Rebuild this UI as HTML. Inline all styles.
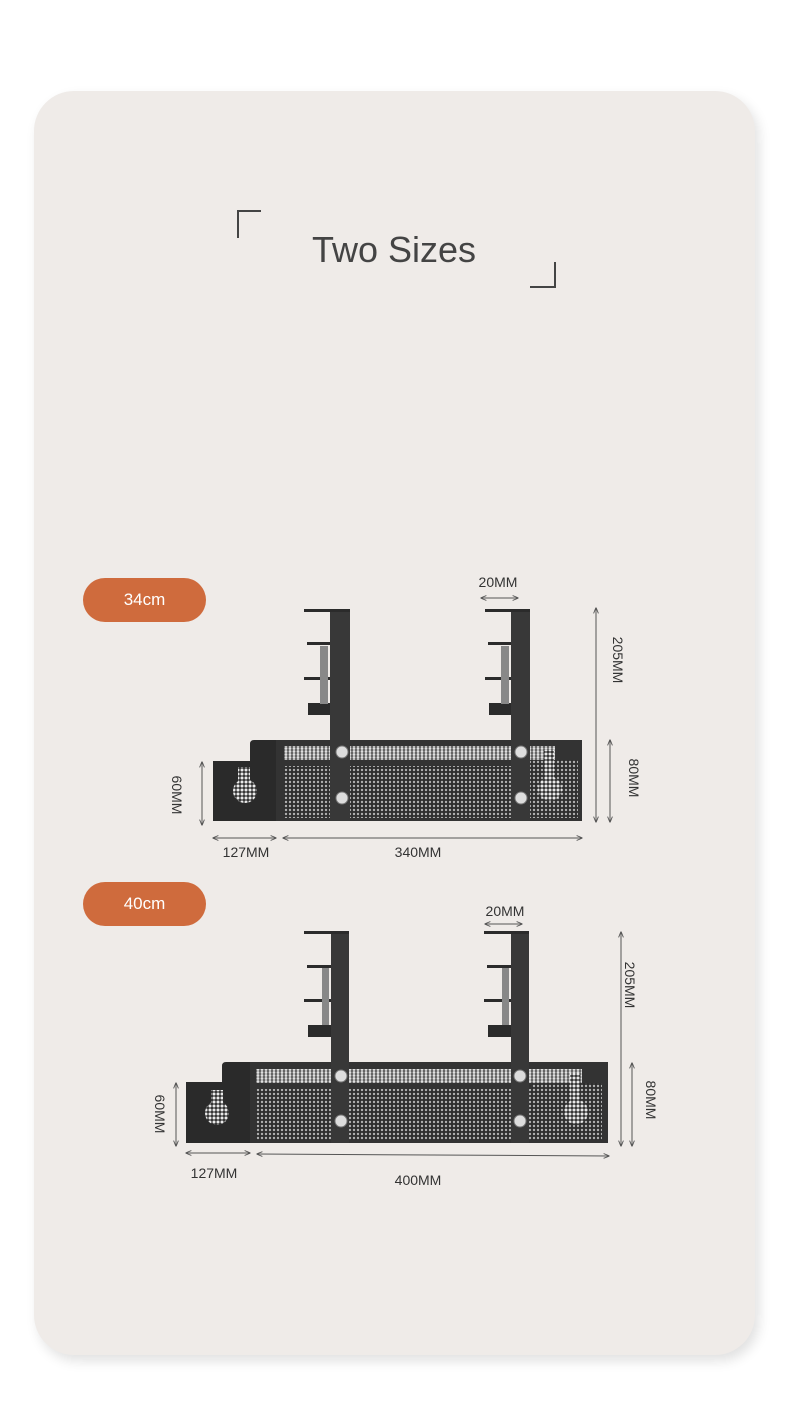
<!DOCTYPE html>
<html><head><meta charset="utf-8">
<style>
html,body{margin:0;padding:0;background:#fff;}
body{width:790px;height:1420px;position:relative;overflow:hidden;font-family:"Liberation Sans",sans-serif;}
.card{position:absolute;left:34px;top:91px;width:721px;height:1264px;border-radius:40px;background:#efebe8;box-shadow:4px 6px 12px rgba(0,0,0,0.12);}
.pill{position:absolute;left:83px;width:123px;height:44px;border-radius:22px;background:#cf6b3d;color:#fff;font-size:17px;line-height:44px;text-align:center;}
svg{position:absolute;left:0;top:0;}
</style></head><body>
<div class="card"></div>
<div class="pill" style="top:578px">34cm</div>
<div class="pill" style="top:882px">40cm</div>
<svg width="790" height="1420" viewBox="0 0 790 1420">
<defs>
<pattern id="m" width="4" height="4" patternUnits="userSpaceOnUse"><rect width="4" height="4" fill="#2e2e2e"/><circle cx="2" cy="2" r="1.2" fill="#b0b0b0"/></pattern>
<pattern id="m2" width="4" height="3" patternUnits="userSpaceOnUse"><rect width="4" height="3" fill="#555"/><circle cx="2" cy="1.5" r="1.4" fill="#e0e0e0"/></pattern>
<pattern id="m3" width="4" height="4" patternUnits="userSpaceOnUse"><rect width="4" height="4" fill="#333"/><circle cx="2" cy="2" r="1.5" fill="#eaeaea"/></pattern>
<marker id="a" viewBox="0 0 10 10" refX="9" refY="5" markerWidth="6" markerHeight="6" orient="auto-start-reverse"><path d="M0,1 L10,5 L0,9" fill="none" stroke="#555" stroke-width="1.5"/></marker>
</defs>
<path d="M238,238 V211 H261" fill="none" stroke="#444" stroke-width="2"/>
<path d="M530,287 H555 V262" fill="none" stroke="#444" stroke-width="2"/>
<text x="394" y="262" text-anchor="middle" font-size="36" fill="#444">Two Sizes</text>

<!-- drawing 1 -->
<g>
<path d="M213,761 H250 V744 Q250,740 254,740 H276 V821 H213 Z" fill="#2a2a2a"/>
<rect x="276" y="740" width="306" height="81" fill="#333"/>
<rect x="284" y="746" width="271" height="14" fill="url(#m2)"/>
<rect x="284" y="766" width="246" height="52" fill="url(#m)"/>
<rect x="530" y="760" width="48" height="58" fill="url(#m)"/>
<g fill="url(#m3)"><rect x="238" y="767" width="12" height="14"/><circle cx="245" cy="791" r="12"/></g>
<g fill="url(#m3)"><rect x="544" y="750" width="10" height="34"/><circle cx="550" cy="789" r="12"/></g>
<g fill="#383838">
<rect x="330" y="610" width="20" height="211"/><rect x="511" y="610" width="19" height="211"/></g>
<g fill="#2b2b2b">
<rect x="304" y="609" width="46" height="3"/>
<rect x="307" y="642" width="23" height="3"/><rect x="304" y="677" width="26" height="3"/>
<rect x="308" y="703" width="22" height="12"/>
<rect x="485" y="609" width="45" height="3"/>
<rect x="488" y="642" width="23" height="3"/><rect x="485" y="677" width="26" height="3"/>
<rect x="489" y="703" width="22" height="12"/>
</g>
<rect x="320" y="646" width="8" height="58" fill="#888"/><rect x="501" y="646" width="8" height="58" fill="#888"/>
<g fill="#ddd" stroke="#777"><circle cx="342" cy="752" r="6"/><circle cx="342" cy="798" r="6"/><circle cx="521" cy="752" r="6"/><circle cx="521" cy="798" r="6"/></g>
<g stroke="#555" stroke-width="1" marker-start="url(#a)" marker-end="url(#a)">
<line x1="481" y1="598" x2="518" y2="598"/>
<line x1="596" y1="608" x2="596" y2="822"/>
<line x1="610" y1="740" x2="610" y2="822"/>
<line x1="202" y1="762" x2="202" y2="825"/>
<line x1="213" y1="838" x2="276" y2="838"/>
<line x1="283" y1="838" x2="582" y2="838"/>
</g>
<g font-size="14" fill="#333" text-anchor="middle">
<text x="498" y="587">20MM</text>
<text x="246" y="857">127MM</text>
<text x="418" y="857">340MM</text>
<text transform="translate(613,660) rotate(90)">205MM</text>
<text transform="translate(629,778) rotate(90)">80MM</text>
<text transform="translate(172,795) rotate(90)">60MM</text>
</g>
</g>

<!-- drawing 2 -->
<g>
<path d="M186,1082 H222 V1066 Q222,1062 226,1062 H250 V1143 H186 Z" fill="#2a2a2a"/>
<rect x="250" y="1062" width="358" height="81" fill="#333"/>
<rect x="256" y="1069" width="326" height="14" fill="url(#m2)"/>
<rect x="256" y="1089" width="276" height="51" fill="url(#m)"/>
<rect x="532" y="1083" width="70" height="57" fill="url(#m)"/>
<g fill="url(#m3)"><rect x="211" y="1090" width="12" height="14"/><circle cx="217" cy="1113" r="12"/></g>
<g fill="url(#m3)"><rect x="570" y="1073" width="10" height="34"/><circle cx="576" cy="1112" r="12"/></g>
<g fill="#383838"><rect x="331" y="932" width="18" height="211"/><rect x="511" y="932" width="18" height="211"/></g>
<g fill="#2b2b2b">
<rect x="304" y="931" width="45" height="3"/>
<rect x="307" y="965" width="24" height="3"/><rect x="304" y="999" width="27" height="3"/>
<rect x="308" y="1025" width="23" height="12"/>
<rect x="484" y="931" width="45" height="3"/>
<rect x="487" y="965" width="24" height="3"/><rect x="484" y="999" width="27" height="3"/>
<rect x="488" y="1025" width="23" height="12"/>
</g>
<rect x="322" y="968" width="7" height="57" fill="#888"/><rect x="502" y="968" width="7" height="57" fill="#888"/>
<g fill="#ddd" stroke="#777"><circle cx="341" cy="1076" r="6"/><circle cx="341" cy="1121" r="6"/><circle cx="520" cy="1076" r="6"/><circle cx="520" cy="1121" r="6"/></g>
<g stroke="#555" stroke-width="1" marker-start="url(#a)" marker-end="url(#a)">
<line x1="485" y1="924" x2="522" y2="924"/>
<line x1="621" y1="932" x2="621" y2="1146"/>
<line x1="632" y1="1063" x2="632" y2="1146"/>
<line x1="176" y1="1083" x2="176" y2="1146"/>
<line x1="186" y1="1153" x2="250" y2="1153"/>
<line x1="257" y1="1154" x2="609" y2="1156"/>
</g>
<g font-size="14" fill="#333" text-anchor="middle">
<text x="505" y="916">20MM</text>
<text x="214" y="1178">127MM</text>
<text x="418" y="1185">400MM</text>
<text transform="translate(625,985) rotate(90)">205MM</text>
<text transform="translate(646,1100) rotate(90)">80MM</text>
<text transform="translate(155,1114) rotate(90)">60MM</text>
</g>
</g>
</svg>
</body></html>
